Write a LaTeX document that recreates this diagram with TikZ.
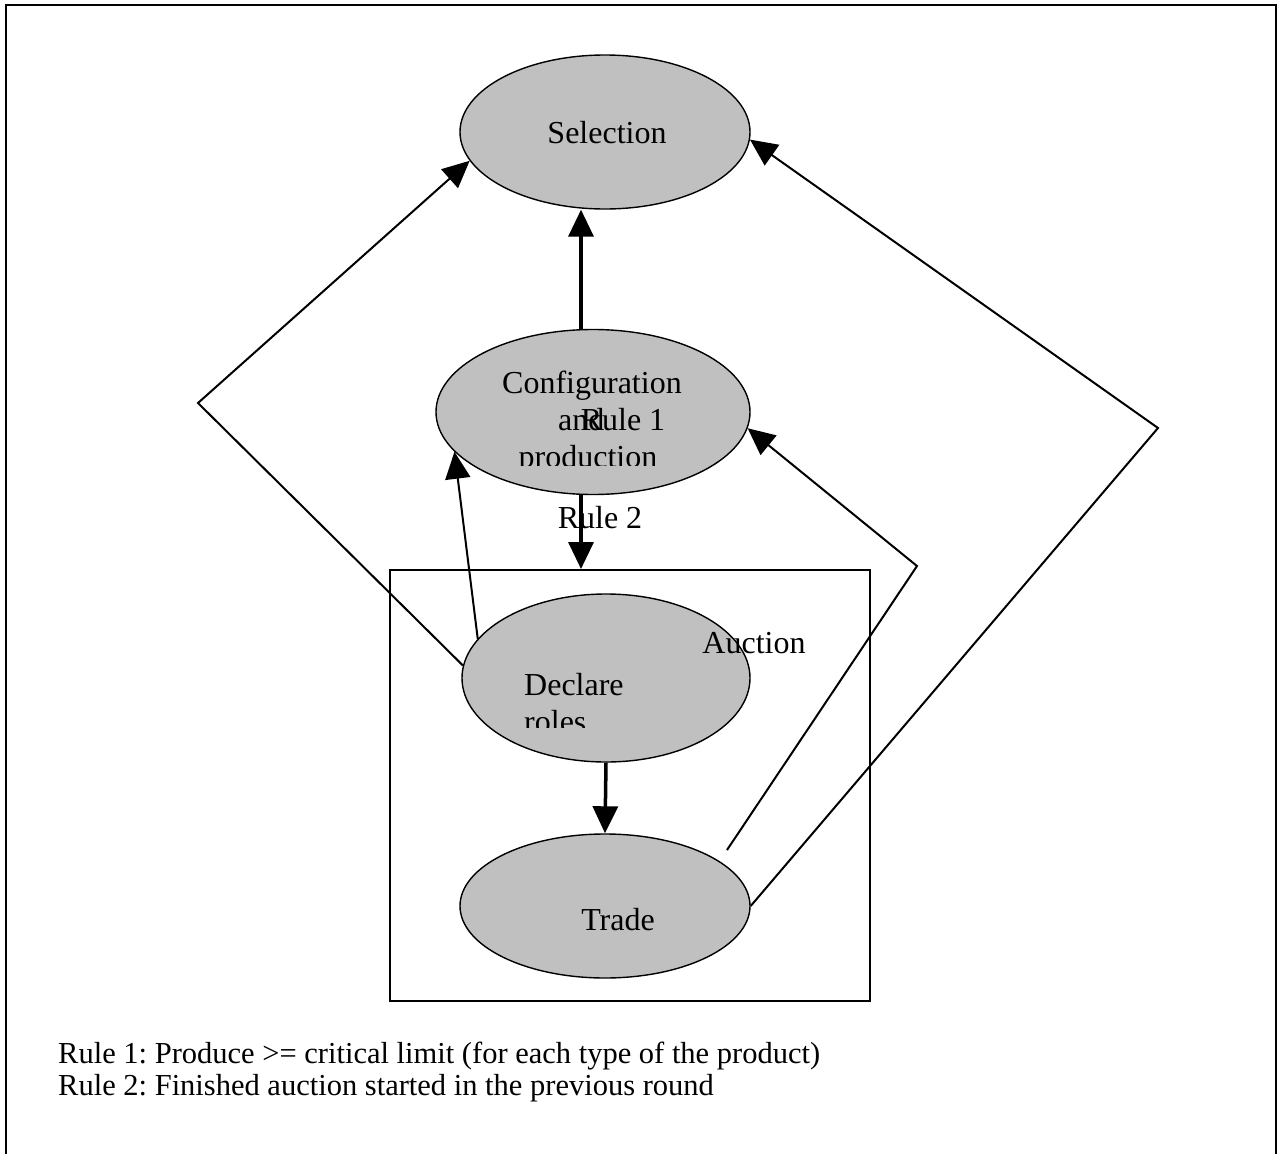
\documentclass[tikz,border=0pt]{standalone}
\usepackage{fontspec}
\setmainfont{Liberation Serif}
\usetikzlibrary{arrows.meta,positioning,calc,shapes.geometric}
\definecolor{StateGray}{HTML}{C0C0C0}
\frenchspacing

\begin{document}
\begin{tikzpicture}[x=1pt,y=-1pt,
  state/.style={ellipse,draw=black,fill=StateGray,line width=1.4pt,inner sep=0pt},
  txt/.style={font=\fontsize{32}{37}\selectfont,inner sep=0pt,anchor=base},
  note/.style={font=\fontsize{30.5}{32}\selectfont,inner sep=0pt,anchor=base west},
  link/.style={draw=black,line width=2pt,line join=miter},
  tip/.style={-{Triangle[length=27pt,width=25pt]}},
  thick link/.style={link,line width=3.5pt,-{Triangle[length=27pt,width=25pt]}}]
\useasboundingbox (0,0) rectangle (1278,1154);
\draw[line width=2.5pt] (6,1154) -- (6,5) -- (1276,5) -- (1276,1154);
\node[state,minimum width=290pt,minimum height=154pt] (sel) at (605,132) {};
\node[state,minimum width=314pt,minimum height=165pt] (conf) at (593,412) {};
\node[draw,line width=2pt,minimum width=480pt,minimum height=431pt,inner sep=0pt] (auction) at (630,785.5) {};
\node[state,minimum width=288pt,minimum height=168pt] (decl) at (606,678) {};
\node[state,minimum width=290pt,minimum height=144pt] (trade) at (605,906) {};
\node[txt] (selT) at (607,143) {Selection};
\node[txt] (confA) at (592,393) {Configuration};
\node[txt,anchor=base west] (confB) at (558,430) {and};
\node[txt] (rule1) at (623,430) {Rule 1};
\begin{scope}
\clip (430,440) rectangle (760,465);
\node[txt] (confC) at (588,467) {production};
\end{scope}
\node[txt] (rule2) at (600,528) {Rule 2};
\node[txt] (auc) at (754,653) {Auction};
\node[txt,anchor=base west] (declA) at (524,695) {Declare};
\begin{scope}
\clip (430,700) rectangle (760,727);
\node[txt,anchor=base west] (declB) at (524,732) {roles};
\end{scope}
\node[txt] (tradeT) at (618,930) {Trade};
\coordinate (kl) at (198,403);
\coordinate (kr) at (1158,428);
\coordinate (km) at (917,566);
\coordinate (ts) at (727,850);
\draw[thick link] ([xshift=-12pt]conf.north) -- ([xshift=-24pt]sel.south);
\draw[thick link] ([xshift=-12pt]conf.south) coordinate (r2) -- (r2 |- auction.north);
\draw[thick link] (decl.south) -- (trade.north);
\draw[link,tip] (decl.175) -- (kl) -- (sel.192);
\draw[link,tip] (decl.163) -- (conf.196);
\draw[link,tip] (ts) -- (km) -- (conf.-6);
\draw[link,tip] (trade.east) -- (kr) -- (sel.-3);
\node[note] (ruleA) at (58,1063) {Rule 1: Produce >= critical limit (for each type of the product)};
\node[note] (ruleB) at ([yshift=-32pt]ruleA.base west) {Rule 2: Finished auction started in the previous round};
\end{tikzpicture}
\end{document}
